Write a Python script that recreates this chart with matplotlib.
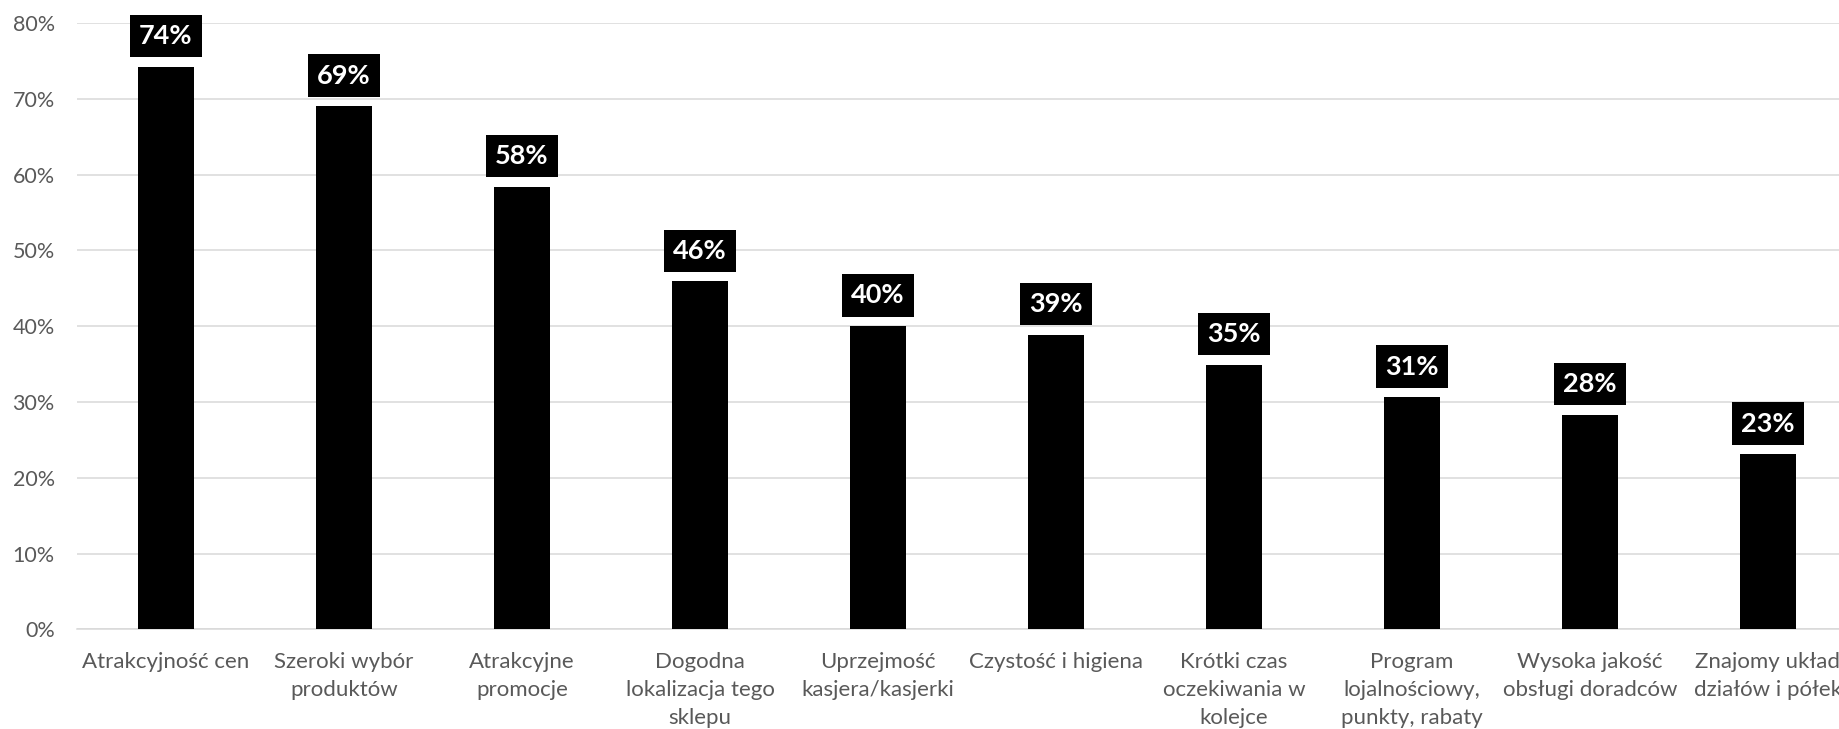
import matplotlib
matplotlib.use("Agg")
import matplotlib.pyplot as plt
from matplotlib.ticker import PercentFormatter, MultipleLocator

categories = [
    "Atrakcyjność cen",
    "Szeroki wybór\nproduktów",
    "Atrakcyjne\npromocje",
    "Dogodna\nlokalizacja tego\nsklepu",
    "Uprzejmość\nkasjera/kasjerki",
    "Czystość i higiena",
    "Krótki czas\noczekiwania w\nkolejce",
    "Program\nlojalnościowy,\npunkty, rabaty",
    "Wysoka jakość\nobsługi doradców",
    "Znajomy układ\ndziałów i półek",
]
values = [0.742, 0.690, 0.584, 0.459, 0.400, 0.389, 0.349, 0.306, 0.283, 0.231]
value_labels = ["74%", "69%", "58%", "46%", "40%", "39%", "35%", "31%", "28%", "23%"]

plt.rcParams['font.family'] = ['Lato', 'DejaVu Sans']

fig = plt.figure(figsize=(18.4, 7.29), dpi=100)
ax = fig.add_axes([77/1840, 99.6/729, 1780/1840, 606.4/729])

x = list(range(len(categories)))
ax.bar(x, values, width=0.315, color='black', zorder=3)

for xi, v, lab in zip(x, values, value_labels):
    ax.annotate(lab, (xi, v), xytext=(0, 13.5), textcoords='offset points',
                ha='center', va='bottom', color='white', fontsize=19.5,
                fontweight='bold', zorder=4,
                bbox=dict(boxstyle='square,pad=0.34', fc='black', ec='none'))

ax.set_xlim(-0.5, 9.5)
ax.set_ylim(0, 0.8)
ax.yaxis.set_major_locator(MultipleLocator(0.1))
ax.yaxis.set_major_formatter(PercentFormatter(1.0, decimals=0))
ax.set_xticks(x)
ax.set_xticklabels(categories, fontsize=16, color='#595959', linespacing=1.5)
ax.tick_params(axis='y', labelsize=15.5, labelcolor='#595959', length=0, pad=16)
ax.tick_params(axis='x', length=0, pad=16)
ax.grid(axis='y', color='#d9d9d9', linewidth=1.1, zorder=0)
for s in ['top', 'right', 'left']:
    ax.spines[s].set_visible(False)
ax.spines['bottom'].set_color('#d9d9d9')
ax.spines['bottom'].set_linewidth(1.1)

fig.savefig('out.png', dpi=100)
